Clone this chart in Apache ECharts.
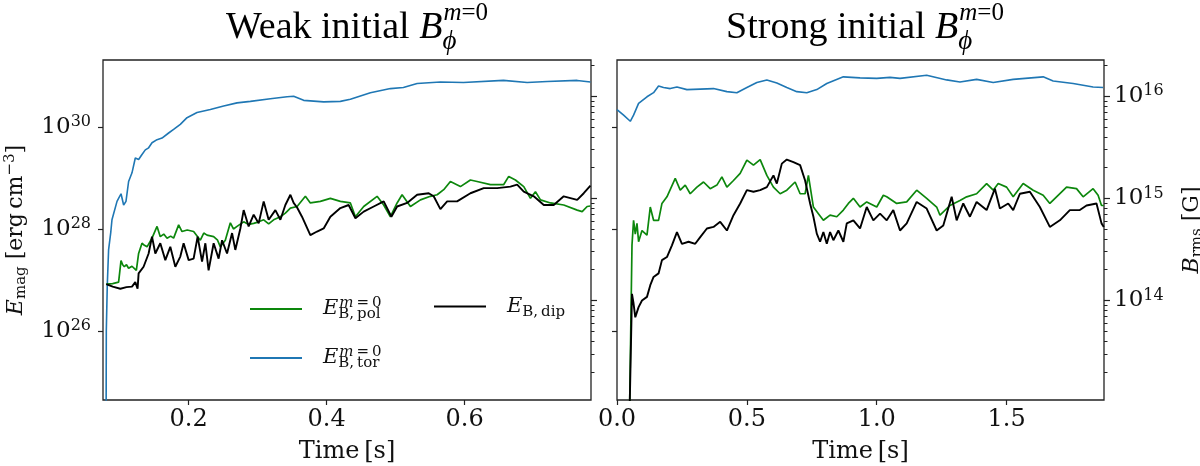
<!DOCTYPE html>
<html><head><meta charset="utf-8">
<script src="https://cdn.jsdelivr.net/npm/echarts@6/dist/echarts.min.js"></script>
<style>html,body{margin:0;padding:0;background:#fff}#c{width:1200px;height:466px}</style>
</head><body><div id="c"></div>
<script>
// values are [time (s), log10(E_mag / erg cm^-3)]
const weakTor = [[0.0805,24.2],[0.0808,26.01],[0.0822,26.90],[0.0841,27.59],[0.0873,27.94],[0.0890,28.18],[0.0963,28.54],[0.1021,28.69],[0.1059,28.47],[0.1069,28.46],[0.1093,28.54],[0.1131,28.93],[0.1180,29.10],[0.1228,29.39],[0.1276,29.36],[0.1325,29.46],[0.1373,29.55],[0.1421,29.59],[0.1470,29.69],[0.1543,29.75],[0.1615,29.78],[0.1711,29.88],[0.1783,29.95],[0.1880,30.05],[0.1977,30.18],[0.2122,30.28],[0.2315,30.34],[0.2508,30.41],[0.2702,30.47],[0.2895,30.50],[0.3185,30.55],[0.3427,30.59],[0.3522,30.60],[0.3667,30.52],[0.3957,30.49],[0.4199,30.50],[0.4344,30.54],[0.4634,30.67],[0.4924,30.75],[0.5112,30.77],[0.5311,30.85],[0.5648,30.88],[0.5982,30.87],[0.6561,30.91],[0.6905,30.87],[0.7195,30.89],[0.7630,30.91],[0.7822,30.88]];
const weakPol = [[0.0808,26.92],[0.0900,26.93],[0.0986,26.96],[0.1011,26.96],[0.1021,27.38],[0.1045,27.30],[0.1069,27.26],[0.1100,27.30],[0.1131,27.23],[0.1180,27.27],[0.1243,27.19],[0.1276,27.52],[0.1300,27.50],[0.1325,27.72],[0.1360,27.68],[0.1398,27.65],[0.1470,27.82],[0.1543,28.05],[0.1590,27.85],[0.1640,27.90],[0.1688,27.82],[0.1740,27.86],[0.1783,27.82],[0.1856,28.08],[0.1905,27.95],[0.1980,27.98],[0.2073,27.95],[0.2170,27.78],[0.2220,27.92],[0.2267,27.88],[0.2363,27.85],[0.2420,27.78],[0.2460,27.65],[0.2532,27.78],[0.2605,28.12],[0.2650,28.00],[0.2702,28.05],[0.2798,28.14],[0.2870,28.09],[0.2943,28.11],[0.3015,28.14],[0.3088,28.18],[0.3160,28.10],[0.3232,28.18],[0.3330,28.24],[0.3402,28.31],[0.3475,28.41],[0.3572,28.44],[0.3692,28.64],[0.3764,28.51],[0.3909,28.54],[0.4054,28.60],[0.4199,28.54],[0.4344,28.51],[0.4417,28.24],[0.4537,28.44],[0.4731,28.64],[0.4827,28.47],[0.4924,28.24],[0.5021,28.51],[0.5093,28.67],[0.5214,28.44],[0.5359,28.57],[0.5503,28.64],[0.5601,28.67],[0.5696,28.77],[0.5793,28.93],[0.5938,28.83],[0.6083,28.96],[0.6180,28.93],[0.6373,28.87],[0.6566,28.87],[0.6638,29.03],[0.6735,28.96],[0.6856,28.83],[0.6953,28.60],[0.7025,28.73],[0.7098,28.57],[0.7243,28.51],[0.7435,28.47],[0.7630,28.37],[0.7702,28.34],[0.7774,28.44],[0.7822,28.45]];
const weakDip = [[0.0808,26.92],[0.0900,26.87],[0.1011,26.83],[0.1100,26.86],[0.1180,26.87],[0.1228,26.96],[0.1261,26.83],[0.1276,27.13],[0.1348,27.26],[0.1421,27.52],[0.1470,27.85],[0.1518,27.52],[0.1590,27.72],[0.1663,27.39],[0.1735,27.65],[0.1808,27.26],[0.1880,27.46],[0.1928,27.72],[0.2001,27.39],[0.2073,27.42],[0.2131,27.85],[0.2195,27.36],[0.2243,27.72],[0.2290,27.19],[0.2363,27.72],[0.2435,27.42],[0.2485,27.78],[0.2557,27.52],[0.2630,27.92],[0.2677,27.59],[0.2750,28.01],[0.2798,28.37],[0.2870,28.05],[0.2943,28.28],[0.3015,28.11],[0.3088,28.54],[0.3160,28.18],[0.3257,28.37],[0.3330,28.18],[0.3402,28.47],[0.3475,28.67],[0.3522,28.51],[0.3572,28.42],[0.3643,28.24],[0.3764,27.88],[0.3861,27.95],[0.3957,28.01],[0.4054,28.24],[0.4199,28.41],[0.4319,28.47],[0.4417,28.21],[0.4537,28.34],[0.4682,28.44],[0.4827,28.54],[0.4938,28.24],[0.5021,28.44],[0.5166,28.51],[0.5311,28.67],[0.5479,28.70],[0.5551,28.64],[0.5648,28.39],[0.5746,28.54],[0.5890,28.54],[0.6083,28.70],[0.6276,28.80],[0.6470,28.80],[0.6663,28.83],[0.6760,28.87],[0.6856,28.73],[0.7001,28.64],[0.7146,28.47],[0.7290,28.47],[0.7435,28.64],[0.7630,28.57],[0.7725,28.70],[0.7822,28.85]];
const strongTor = [[0.0000,30.34],[0.0254,30.23],[0.0512,30.11],[0.0638,30.23],[0.0831,30.46],[0.1154,30.59],[0.1408,30.67],[0.1600,30.80],[0.1792,30.77],[0.2050,30.75],[0.2308,30.78],[0.2692,30.73],[0.3204,30.74],[0.3715,30.75],[0.4231,30.69],[0.4615,30.67],[0.5000,30.77],[0.5385,30.87],[0.5769,30.92],[0.6154,30.86],[0.6538,30.77],[0.6923,30.69],[0.7308,30.67],[0.7692,30.73],[0.8077,30.85],[0.8715,30.98],[0.9358,30.96],[1.0000,30.95],[1.0512,30.97],[1.0896,30.95],[1.1923,31.01],[1.2692,30.92],[1.3204,30.88],[1.3846,30.93],[1.4485,30.87],[1.5254,30.93],[1.6408,30.98],[1.6792,30.90],[1.7562,30.85],[1.8331,30.78],[1.8715,30.77]];
const strongPol = [[0.0480,24.3],[0.0577,27.68],[0.0638,28.17],[0.0704,27.90],[0.0769,28.11],[0.0831,27.75],[0.0962,27.97],[0.1154,27.88],[0.1281,28.43],[0.1408,28.17],[0.1600,28.17],[0.1731,28.50],[0.1923,28.63],[0.2242,28.99],[0.2435,28.76],[0.2627,28.86],[0.2819,28.69],[0.3077,28.82],[0.3331,28.92],[0.3588,28.79],[0.3846,28.86],[0.4038,29.02],[0.4231,28.82],[0.4485,28.95],[0.4742,29.09],[0.5000,29.35],[0.5254,29.25],[0.5512,29.36],[0.5769,29.05],[0.6023,28.82],[0.6281,28.69],[0.6538,28.76],[0.6858,28.92],[0.7050,28.69],[0.7242,28.69],[0.7369,29.05],[0.7562,28.43],[0.7754,28.30],[0.7946,28.17],[0.8204,28.27],[0.8462,28.24],[0.8715,28.37],[0.8908,28.50],[0.9100,28.60],[0.9358,28.43],[0.9615,28.53],[1.0000,28.43],[1.0254,28.66],[1.0385,28.63],[1.0769,28.50],[1.1154,28.53],[1.1538,28.76],[1.1923,28.60],[1.2308,28.43],[1.2435,28.27],[1.2819,28.46],[1.3204,28.56],[1.3462,28.63],[1.3846,28.69],[1.4231,28.89],[1.4485,28.76],[1.4677,28.89],[1.5000,28.82],[1.5254,28.63],[1.5638,28.89],[1.6023,28.76],[1.6408,28.66],[1.6665,28.50],[1.6923,28.63],[1.7308,28.82],[1.7692,28.79],[1.7946,28.63],[1.8331,28.79],[1.8523,28.66],[1.8654,28.46],[1.8742,28.46]];
const strongDip = [[0.0480,24.3],[0.0577,26.73],[0.0638,26.54],[0.0704,26.27],[0.0831,26.47],[0.0962,26.60],[0.1154,26.67],[0.1281,26.90],[0.1408,27.06],[0.1600,27.13],[0.1731,27.39],[0.1923,27.45],[0.2115,27.68],[0.2308,27.94],[0.2500,27.71],[0.2754,27.75],[0.3012,27.71],[0.3204,27.84],[0.3462,28.01],[0.3715,28.04],[0.3973,28.14],[0.4231,27.97],[0.4485,28.27],[0.4742,28.50],[0.5000,28.76],[0.5254,28.73],[0.5512,28.76],[0.5769,28.82],[0.6023,29.05],[0.6154,28.89],[0.6346,29.28],[0.6538,29.36],[0.6792,29.31],[0.7050,29.25],[0.7242,28.95],[0.7435,28.50],[0.7562,28.24],[0.7692,27.91],[0.7819,27.75],[0.7946,27.94],[0.8077,27.71],[0.8204,27.94],[0.8331,27.78],[0.8523,27.97],[0.8715,27.75],[0.8846,28.11],[0.9100,28.17],[0.9358,28.01],[0.9615,28.43],[0.9869,28.17],[1.0127,28.30],[1.0385,28.17],[1.0638,28.37],[1.0896,27.97],[1.1154,28.11],[1.1538,28.53],[1.1923,28.40],[1.2308,27.97],[1.2562,28.07],[1.2885,28.63],[1.3077,28.17],[1.3331,28.50],[1.3588,28.24],[1.3846,28.53],[1.4231,28.37],[1.4550,28.79],[1.4742,28.40],[1.5062,28.50],[1.5254,28.37],[1.5512,28.69],[1.5896,28.73],[1.6281,28.43],[1.6665,28.04],[1.7050,28.17],[1.7435,28.37],[1.7819,28.37],[1.8077,28.46],[1.8462,28.50],[1.8654,28.11],[1.8742,28.04]];

const weakTicksX = [0.2, 0.4, 0.6];
const strongTicksX = [0.0, 0.5, 1.0, 1.5];
const eTickExps = [26, 28, 30];
const bTickExps = [14, 15, 16];
const bMinorDecades = [13, 14, 15, 16];
const minorMultipliers = [2, 3, 4, 5, 6, 7, 8, 9];

const E_MIN = 24.65, E_MAX = 31.31;
const WEAK_T = [0.076, 0.783];
const STRONG_T = [0, 1.875];
const LOG_8PI = Math.log10(8 * Math.PI);   // E = B^2 / (8 pi)
const B_MIN = (E_MIN + LOG_8PI) / 2, B_MAX = (E_MAX + LOG_8PI) / 2;
const bMinor = [];
bMinorDecades.forEach(d => minorMultipliers.forEach(k => {
  const v = d + Math.log10(k);
  if (v > B_MIN && v < B_MAX) bMinor.push(v);
}));

const COL = { tor: '#1f77b4', pol: '#0c870c', dip: '#000000' };
const SERIF = 'DejaVu Serif';
const INK = '#111';
const AX = '#222';

const powRich = {
  b: { fontFamily: SERIF, fontSize: 23, lineHeight: 26, color: INK },
  s: { fontFamily: SERIF, fontSize: 16, lineHeight: 9, verticalAlign: 'top', color: INK }
};
const powFmt = v => '{b|10}{s|' + Math.round(v) + '}';

function xAxis(grid, ext, ticks) {
  return {
    type: 'value', gridIndex: grid, min: ext[0], max: ext[1],
    axisLine: { show: false }, splitLine: { show: false },
    axisTick: { show: true, customValues: ticks, length: 5, lineStyle: { color: AX, width: 1.2 } },
    axisLabel: { customValues: ticks, margin: 8, fontFamily: SERIF, fontSize: 24, color: INK, formatter: v => v.toFixed(1) },
    name: 'Time\u2009[s]', nameLocation: 'middle', nameGap: 40, nameMoveOverlap: false,
    nameTextStyle: { fontFamily: SERIF, fontSize: 24, color: INK }
  };
}
function eAxis(grid, labels) {
  const a = {
    type: 'value', gridIndex: grid, position: 'left', min: E_MIN, max: E_MAX,
    axisLine: { show: false }, splitLine: { show: false },
    axisTick: { show: true, customValues: eTickExps, length: 5, lineStyle: { color: AX, width: 1.2 } },
    axisLabel: { show: labels, customValues: eTickExps, margin: 12, formatter: powFmt, rich: powRich }
  };
  if (labels) {
    Object.assign(a, {
      name: '{it|E}{sub|mag}{n| [erg\u2009cm}{sup|\u22123}{n|]}', nameLocation: 'middle', nameGap: 74, nameRotate: 90, nameMoveOverlap: false,
      nameTextStyle: { color: INK, rich: {
        it: { fontFamily: SERIF, fontStyle: 'italic', fontSize: 22, lineHeight: 26, color: INK },
        n: { fontFamily: SERIF, fontSize: 22, lineHeight: 26, color: INK },
        sub: { fontFamily: SERIF, fontSize: 15, lineHeight: 12, verticalAlign: 'bottom', color: INK },
        sup: { fontFamily: SERIF, fontSize: 15, lineHeight: 8, verticalAlign: 'top', color: INK }
      } }
    });
  }
  return a;
}
function bAxis(grid, labels) {
  const a = {
    type: 'value', gridIndex: grid, position: 'right', offset: 0, min: B_MIN, max: B_MAX,
    axisLine: { show: false }, splitLine: { show: false },
    axisTick: { show: true, customValues: bTickExps, length: 6, lineStyle: { color: AX, width: 1.2 } },
    axisLabel: { show: labels, customValues: bTickExps, margin: 10, formatter: powFmt, rich: powRich }
  };
  if (labels) {
    Object.assign(a, {
      name: '{it|B}{sub|rms}{n| [G]}', nameLocation: 'middle', nameGap: 75, nameRotate: 90, nameMoveOverlap: false,
      nameTextStyle: { color: INK, rich: {
        it: { fontFamily: SERIF, fontStyle: 'italic', fontSize: 22, lineHeight: 26, color: INK },
        n: { fontFamily: SERIF, fontSize: 22, lineHeight: 26, color: INK },
        sub: { fontFamily: SERIF, fontSize: 15, lineHeight: 12, verticalAlign: 'bottom', color: INK }
      } }
    });
  }
  return a;
}
function bMinorAxis(grid) {
  return {
    type: 'value', gridIndex: grid, position: 'right', offset: 0, min: B_MIN, max: B_MAX,
    axisLine: { show: false }, splitLine: { show: false },
    axisTick: { show: true, customValues: bMinor, length: 3.5, lineStyle: { color: AX, width: 1 } },
    axisLabel: { show: false }
  };
}
function line(name, data, xi, yi, w) {
  return {
    type: 'line', name: name, data: data, xAxisIndex: xi, yAxisIndex: yi,
    showSymbol: false, symbol: 'none', clip: true, animation: false,
    itemStyle: { color: COL[name] }, lineStyle: { color: COL[name], width: w }
  };
}

const TF = 'Liberation Serif';
const titleRich = {
  r: { fontFamily: TF, fontWeight: 'normal', fontSize: 38, lineHeight: 54, color: '#000', align: 'left' },
  i: { fontFamily: TF, fontWeight: 'normal', fontStyle: 'italic', fontSize: 38, lineHeight: 54, color: '#000', align: 'left' },
  sub: { fontFamily: TF, fontWeight: 'normal', fontStyle: 'italic', fontSize: 27, lineHeight: 34, verticalAlign: 'bottom', width: 1, color: '#000', align: 'left' },
  supi: { fontFamily: TF, fontWeight: 'normal', fontStyle: 'italic', fontSize: 25, lineHeight: 5, verticalAlign: 'top', color: '#000', align: 'left' },
  supr: { fontFamily: TF, fontWeight: 'normal', fontSize: 25, lineHeight: 5, verticalAlign: 'top', color: '#000', align: 'left' }
};
const legRich = {
  it: { fontFamily: SERIF, fontStyle: 'italic', fontSize: 21, lineHeight: 26, color: INK, align: 'left' },
  sub: { fontFamily: SERIF, fontSize: 15, lineHeight: 15, verticalAlign: 'bottom', color: INK, align: 'left' },
  subw: { fontFamily: SERIF, fontSize: 15, lineHeight: 15, verticalAlign: 'bottom', width: 1, color: INK, align: 'left' },
  supi: { fontFamily: SERIF, fontStyle: 'italic', fontSize: 15, lineHeight: 7, verticalAlign: 'top', color: INK, align: 'left' },
  sup: { fontFamily: SERIF, fontSize: 15, lineHeight: 7, verticalAlign: 'top', color: INK, align: 'left' }
};
const legFmt = n => n === 'dip' ? '{it|E}{sub|B,\u2009dip}' : '{it|E}{subw|B,\u2009' + n + '}{supi|m}{sup|\u2009=\u20090}';
function legend(name, left, top) {
  return {
    data: [name], left: left, top: top, padding: 0, orient: 'horizontal', selectedMode: false,
    icon: 'rect', itemWidth: 52, itemHeight: 2,
    formatter: legFmt, textStyle: { padding: [0, 0, 0, 16], rich: legRich }
  };
}

const option = {
  animation: false,
  backgroundColor: '#ffffff',
  title: [
    { text: '{r|Weak initial }{i|B}{sub|\u03d5}{supi|m}{supr|=0}', left: 357, top: 1, textAlign: 'center', padding: 0, textStyle: { fontWeight: 'normal', rich: titleRich } },
    { text: '{r|Strong initial }{i|B}{sub|\u03d5}{supi|m}{supr|=0}', left: 865, top: 1, textAlign: 'center', padding: 0, textStyle: { fontWeight: 'normal', rich: titleRich } }
  ],
  legend: [legend('pol', 250, 296), legend('tor', 250, 345), legend('dip', 434, 296)],
  grid: [
    { left: 103, right: 609, top: 60, bottom: 66, show: true, borderColor: AX, borderWidth: 1.3, backgroundColor: 'transparent', containLabel: false, outerBoundsMode: 'none' },
    { left: 617, right: 96, top: 60, bottom: 66, show: true, borderColor: AX, borderWidth: 1.3, backgroundColor: 'transparent', containLabel: false, outerBoundsMode: 'none' }
  ],
  xAxis: [xAxis(0, WEAK_T, weakTicksX), xAxis(1, STRONG_T, strongTicksX)],
  yAxis: [eAxis(0, true), bAxis(0, false), bMinorAxis(0), eAxis(1, false), bAxis(1, true), bMinorAxis(1)],
  series: [
    line('tor', weakTor, 0, 0, 1.6), line('pol', weakPol, 0, 0, 1.7), line('dip', weakDip, 0, 0, 1.9),
    line('tor', strongTor, 1, 3, 1.6), line('pol', strongPol, 1, 3, 1.7), line('dip', strongDip, 1, 3, 1.9)
  ]
};
const chart = echarts.init(document.getElementById('c'), null, { renderer: 'canvas' });
chart.setOption(option);
</script></body></html>
